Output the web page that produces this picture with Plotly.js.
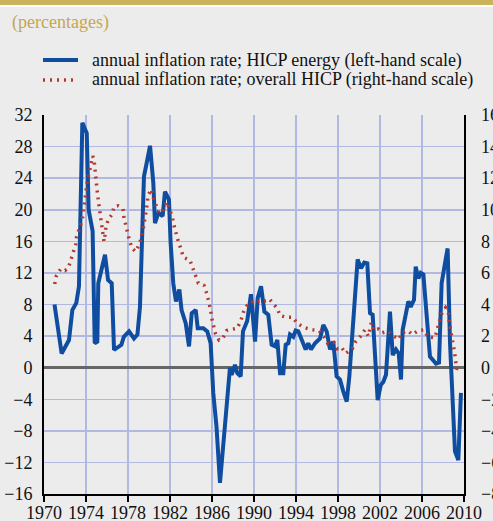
<!DOCTYPE html>
<html>
<head>
<meta charset="utf-8">
<script src="https://cdn.plot.ly/plotly-3.0.1.min.js"></script>
<style>
  html, body { margin: 0; padding: 0; background: #ececec; }
  #chart { width: 493px; height: 521px; }
</style>
</head>
<body>
<div id="chart"></div>
<script>
// ---- Data ----
const energyName = "annual inflation rate; HICP energy (left-hand scale)";
const hicpName = "annual inflation rate; overall HICP (right-hand scale)";
const subtitleText = "(percentages)";

const energyYears = [
  1971.0, 1971.68, 1972.38, 1972.7, 1973.08, 1973.33, 1973.65, 1974.07, 1974.25, 1974.63,
  1974.83, 1975.08, 1975.17, 1975.55, 1975.81, 1976.1, 1976.45, 1976.67, 1976.98, 1977.37,
  1977.6, 1978.1, 1978.57, 1978.9, 1979.14, 1979.52, 1980.1, 1980.41, 1980.57, 1980.89,
  1981.3, 1981.52, 1981.9, 1982.06, 1982.31, 1982.57, 1982.89, 1983.1, 1983.5, 1983.81,
  1984.07, 1984.45, 1984.64, 1985.17, 1985.55, 1985.87, 1986.12, 1986.43, 1986.76, 1987.14,
  1987.46, 1987.71, 1987.87, 1988.19, 1988.41, 1988.73, 1988.95, 1989.35, 1989.71, 1990.1,
  1990.35, 1990.67, 1990.99, 1991.36, 1991.68, 1992.0, 1992.22, 1992.48, 1992.79, 1993.02,
  1993.27, 1993.43, 1993.74, 1993.97, 1994.22, 1994.54, 1994.92, 1995.17, 1995.43, 1995.81,
  1996.29, 1996.6, 1996.92, 1997.24, 1997.55, 1997.87, 1998.19, 1998.5, 1998.83, 1999.08,
  1999.52, 1999.87, 2000.19, 2000.5, 2000.79, 2001.05, 2001.3, 2001.52, 2001.78, 2002.07,
  2002.31, 2002.57, 2002.7, 2002.95, 2003.21, 2003.52, 2003.78, 2004.0, 2004.16, 2004.45,
  2004.7, 2004.92, 2005.24, 2005.4, 2005.65, 2005.88, 2006.13, 2006.45, 2006.76, 2007.08,
  2007.33, 2007.62, 2007.87, 2008.19, 2008.44, 2008.67, 2008.92, 2009.14, 2009.46, 2009.71
];
const energyValues = [
  8.0, 1.8, 3.5, 7.3, 8.2, 10.3, 31.0, 29.7, 20.0, 17.3,
  3.1, 3.3, 10.7, 13.2, 14.3, 11.1, 10.7, 2.25, 2.5, 2.9,
  3.9, 4.6, 3.7, 4.2, 7.7, 24.2, 28.1, 23.4, 18.3, 19.6,
  19.2, 22.3, 21.3, 15.8, 10.7, 8.4, 9.9, 7.3, 5.6, 2.7,
  6.9, 7.3, 5.0, 5.0, 4.6, 3.1, -3.2, -7.5, -14.6, -8.7,
  -3.2, 0.0, -0.9, 0.35, -0.7, -1.1, 4.6, 5.9, 9.3, 3.3,
  8.8, 10.3, 7.1, 6.7, 2.9, 2.7, 3.5, -0.7, -0.7, 2.9,
  3.1, 4.2, 3.9, 4.7, 4.6, 3.5, 2.3, 3.1, 2.3, 3.1,
  3.7, 5.4, 4.6, 2.3, 3.3, -1.1, -1.5, -3.0, -4.3, -1.1,
  6.9, 13.7, 12.6, 13.3, 13.2, 6.9, 6.7, 2.3, -4.1, -2.2,
  -1.8, -0.9, 2.3, 7.1, 1.6, 2.3, 1.8, -1.5, 4.8, 6.5,
  8.4, 7.7, 8.6, 12.8, 11.3, 12.0, 11.8, 6.5, 1.4, 0.9,
  0.5, 0.65, 10.7, 13.2, 15.1, 3.1, -3.7, -10.6, -11.7, -3.2
];

const hicpYears = [
  1971.02, 1971.17, 1971.59, 1972.0, 1972.31, 1972.54, 1972.79, 1973.02, 1973.11, 1973.36,
  1973.62, 1973.74, 1973.84, 1973.93, 1974.03, 1974.13, 1974.32, 1974.45, 1974.64, 1974.76,
  1974.83, 1974.92, 1974.98, 1975.08, 1975.17, 1975.3, 1975.4, 1975.49, 1975.62, 1975.71,
  1975.81, 1975.9, 1976.13, 1976.48, 1976.67, 1977.05, 1977.3, 1977.52, 1977.62, 1977.78,
  1977.94, 1978.16, 1978.41, 1978.73, 1979.11, 1979.3, 1979.46, 1979.59, 1979.74, 1979.84,
  1979.9, 1980.22, 1980.41, 1980.73, 1980.98, 1981.36, 1981.69, 1981.94, 1982.22, 1982.38,
  1982.57, 1982.79, 1983.05, 1983.27, 1983.9, 1984.22, 1984.45, 1984.7, 1985.24, 1985.5,
  1985.71, 1985.87, 1985.97, 1986.12, 1986.31, 1986.67, 1987.02, 1987.4, 1987.87, 1988.41,
  1988.76, 1988.98, 1989.3, 1989.71, 1990.1, 1990.57, 1990.79, 1991.2, 1991.46, 1991.81,
  1992.22, 1992.48, 1993.05, 1993.68, 1994.13, 1994.76, 1995.46, 1996.19, 1996.67, 1997.05,
  1997.62, 1997.94, 1998.32, 1998.73, 1999.36, 1999.68, 2000.16, 2000.57, 2000.89, 2001.05,
  2001.17, 2001.43, 2001.84, 2002.16, 2002.79, 2003.3, 2003.81, 2004.06, 2004.64, 2005.08,
  2005.65, 2006.19, 2006.57, 2007.24, 2007.46, 2007.62, 2007.87, 2008.25, 2008.51, 2008.57,
  2008.67, 2008.83, 2008.98, 2009.11, 2009.3, 2009.52
];
const hicpValues = [
  5.3, 5.8, 6.25, 6.15, 6.3, 6.8, 7.25, 7.8, 8.3, 8.8,
  9.3, 9.8, 10.3, 10.85, 11.35, 11.9, 12.4, 12.9, 13.4, 13.2,
  12.6, 12.1, 11.6, 11.1, 10.6, 10.05, 9.5, 9.0, 8.5, 8.0,
  8.4, 8.9, 9.4, 9.7, 10.2, 10.25, 10.15, 10.05, 9.5, 9.0,
  8.5, 8.0, 7.55, 7.35, 7.85, 8.3, 8.85, 9.35, 9.9, 10.4,
  10.9, 11.3, 10.75, 10.25, 9.75, 10.0, 10.5, 10.05, 9.55, 9.0,
  8.5, 8.0, 7.5, 7.0, 6.8, 6.3, 5.8, 5.35, 5.2, 4.7,
  4.2, 3.65, 3.15, 2.65, 2.2, 1.75, 1.85, 2.35, 2.4, 2.5,
  3.0, 3.5, 3.9, 4.2, 4.1, 4.25, 4.2, 4.25, 4.35, 4.05,
  3.75, 3.3, 3.2, 3.2, 2.8, 2.55, 2.4, 2.35, 1.95, 1.5,
  1.6, 1.2, 1.3, 0.9, 1.2, 1.65, 2.0, 2.4, 2.0, 2.5,
  2.85, 2.35, 2.45, 2.2, 2.3, 2.0, 1.8, 2.2, 2.35, 2.1,
  2.35, 2.4, 1.95, 1.9, 2.35, 2.85, 3.4, 3.8, 3.55, 3.05,
  2.55, 2.0, 1.5, 0.95, -0.1, 0.05
];

const xTickVals = [1970, 1974, 1978, 1982, 1986, 1990, 1994, 1998, 2002, 2006, 2010];
const xTickText = ["1970", "1974", "1978", "1982", "1986", "1990", "1994", "1998", "2002", "2006", "2010"];
const leftTickVals = [-16, -12, -8, -4, 0, 4, 8, 12, 16, 20, 24, 28, 32];
const rightTickVals = [-8, -6, -4, -2, 0, 2, 4, 6, 8, 10, 12, 14, 16];

// ---- Styling ----
const W = 493, H = 521;
const M = { l: 44, r: 29, t: 115, b: 27 };
const plotH = H - M.t - M.b;
const plotW = W - M.l - M.r;
const py = (pix) => (H - M.b - pix) / plotH;   // pixel row -> paper y
const px = (pix) => (pix - M.l) / plotW;       // pixel col -> paper x

const serif = "Liberation Serif";
const gridColor = "#b1b9e3";
const bg = "#ececec";
const blue = "#0e4d9f";
const red = "#b3392c";
const tickFont = { family: serif, size: 18, color: "#111" };

const traces = [
  {
    x: energyYears, y: energyValues, yaxis: "y",
    type: "scatter", mode: "lines", name: energyName,
    line: { color: blue, width: 4 }
  },
  {
    x: hicpYears, y: hicpValues, yaxis: "y2",
    type: "scatter", mode: "lines", name: hicpName,
    line: { color: red, width: 3.5, dash: "2px,5px" }
  }
];

const legendRows = [
  { name: energyName, y: 60, color: blue, width: 4, dash: "solid" },
  { name: hicpName, y: 80, color: red, width: 3.5, dash: "2px,5px" }
];

const layout = {
  width: W, height: H,
  margin: { l: M.l, r: M.r, t: M.t, b: M.b, pad: 0 },
  paper_bgcolor: bg, plot_bgcolor: bg,
  font: { family: serif, size: 18, color: "#111" },
  showlegend: false,
  xaxis: {
    range: [1970, 2010],
    tickmode: "array", tickvals: xTickVals, ticktext: xTickText,
    showgrid: true, gridcolor: gridColor, gridwidth: 1.5,
    showline: true, linecolor: "#000", linewidth: 2,
    ticks: "outside", ticklen: 6, tickwidth: 2, tickcolor: "#000",
    ticklabelstandoff: -5,
    tickfont: tickFont,
    zeroline: false, fixedrange: true
  },
  yaxis: {
    range: [-16, 32],
    tickmode: "array", tickvals: leftTickVals,
    showgrid: true, gridcolor: gridColor, gridwidth: 1.5,
    showline: true, linecolor: "#000", linewidth: 2,
    ticks: "", ticklabelstandoff: 6,
    zeroline: true, zerolinecolor: "#666", zerolinewidth: 2.5,
    tickfont: tickFont,
    fixedrange: true
  },
  yaxis2: {
    range: [-8, 16], overlaying: "y", side: "right",
    tickmode: "array", tickvals: rightTickVals,
    showgrid: false, zeroline: false,
    showline: true, linecolor: "#000", linewidth: 1.5,
    ticks: "", ticklabelstandoff: 12,
    tickfont: tickFont,
    fixedrange: true
  },
  shapes: [
    { type: "rect", xref: "paper", yref: "paper", x0: px(0), x1: px(W), y0: py(5), y1: py(0),
      fillcolor: "#c9b35b", line: { width: 0 }, layer: "below" },
    { type: "rect", xref: "paper", yref: "paper", x0: px(0), x1: px(W), y0: py(7), y1: py(5),
      fillcolor: "#ffffff", line: { width: 0 }, layer: "below" }
  ].concat(legendRows.map(r => ({
    type: "line", xref: "paper", yref: "paper",
    x0: px(43), x1: px(78), y0: py(r.y), y1: py(r.y),
    line: { color: r.color, width: r.width, dash: r.dash }
  }))),
  annotations: [
    { text: subtitleText, xref: "paper", yref: "paper", x: px(10), y: py(22),
      xanchor: "left", yanchor: "middle", showarrow: false,
      font: { family: serif, size: 18, color: "#c6a64e" } }
  ].concat(legendRows.map(r => ({
    text: r.name, xref: "paper", yref: "paper", x: px(90), y: py(r.y),
    xanchor: "left", yanchor: "middle", showarrow: false,
    font: { family: serif, size: 18, color: "#111" }
  })))
};

Plotly.newPlot("chart", traces, layout, { displayModeBar: false, staticPlot: true });
</script>
</body>
</html>
